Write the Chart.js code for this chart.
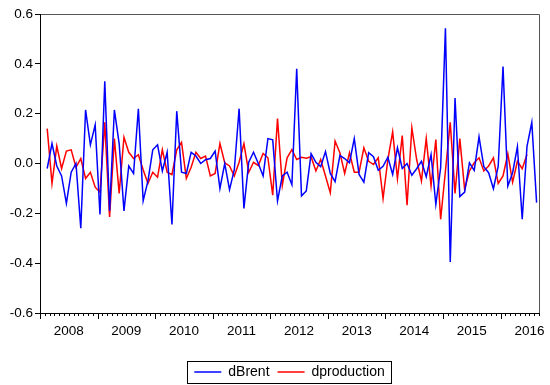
<!DOCTYPE html>
<html>
<head>
<meta charset="utf-8">
<script src="https://cdn.jsdelivr.net/npm/chart.js@4.4.0/dist/chart.umd.min.js"></script>
<style>
  html, body { margin: 0; padding: 0; background: #fff; }
  #wrap { width: 550px; height: 385px; }
</style>
</head>
<body>
<div id="wrap"><canvas id="myChart"></canvas></div>
<script>
// monthly series, 2008M02 .. 2016M08 (x = month index from 2008M02)
var years = ["2008", "2009", "2010", "2011", "2012", "2013", "2014", "2015", "2016"];

var dBrent = [
  -0.02, 0.08, -0.01, -0.05, -0.16, -0.035, 0.0, -0.26, 0.215, 0.075, 0.155, -0.205,
  0.33, -0.19, 0.215, 0.08, -0.19, -0.01, -0.04, 0.22, -0.15, -0.07, 0.055, 0.075,
  -0.03, 0.045, -0.245, 0.21, -0.035, -0.04, 0.045, 0.03, 0.0, 0.015, 0.02, 0.05,
  -0.1, 0.0, -0.105, -0.025, 0.22, -0.18, 0.005, 0.045, 0.0, -0.05, 0.1, 0.095,
  -0.15, -0.05, -0.035, -0.085, 0.38, -0.13, -0.11, 0.04, 0.005, -0.013, 0.048, -0.04,
  -0.073, 0.032, 0.02, 0.003, 0.1, -0.044, -0.075, 0.043, 0.027, -0.027, -0.011, 0.025,
  -0.044, 0.063, -0.02, 0.0, -0.047, -0.021, 0.009, -0.053, 0.036, -0.164, -0.017, 0.543,
  -0.395, 0.263, -0.133, -0.115, 0.003, -0.028, 0.107, -0.013, -0.037, -0.101, -0.011, 0.389,
  -0.091, -0.037, 0.067, -0.224, 0.069, 0.165, -0.157
];

var dproduction = [
  0.14, -0.08, 0.07, -0.02, 0.05, 0.055, -0.015, 0.02, -0.06, -0.035, -0.095, -0.115,
  0.165, -0.215, 0.1, -0.12, 0.105, 0.045, 0.02, 0.035, -0.025, -0.08, -0.035, -0.055,
  0.055, -0.035, -0.045, 0.055, 0.085, -0.06, -0.015, 0.045, 0.02, 0.03, -0.05, -0.04,
  0.08, 0.003, -0.01, -0.05, 0.005, 0.08, -0.035, 0.005, -0.008, 0.04, 0.023, -0.127,
  0.18, -0.088, 0.023, 0.056, 0.016, 0.025, 0.021, 0.027, -0.03, 0.016, -0.05, -0.117,
  0.09, 0.043, -0.04, 0.043, -0.035, -0.035, 0.063, 0.009, -0.004, 0.023, -0.14, 0.016,
  0.127, -0.061, 0.112, -0.167, 0.143, 0.016, -0.07, 0.1, -0.09, 0.096, -0.224, -0.03,
  0.165, -0.12, 0.1, -0.104, -0.03, 0.003, 0.023, -0.03, -0.01, 0.023, -0.08, -0.05,
  0.039, -0.075, 0.009, -0.021, 0.036
];

function toPoints(arr) {
  return arr.map(function (v, i) { return { x: i, y: v }; });
}

var FONT = "'Liberation Sans', Arial, sans-serif";

// frame, month ticks on the x axis, box round the legend
var framePlugin = {
  id: "frame",
  afterDraw: function (chart) {
    var ctx = chart.ctx, a = chart.chartArea, xs = chart.scales.x;
    ctx.save();
    ctx.lineWidth = 1;

    // top and right edges
    ctx.strokeStyle = "#555";
    ctx.beginPath();
    ctx.moveTo(a.left, a.top + 0.5);
    ctx.lineTo(a.right + 0.5, a.top + 0.5);
    ctx.lineTo(a.right + 0.5, a.bottom);
    ctx.stroke();

    // left and bottom axes
    ctx.strokeStyle = "#000";
    ctx.beginPath();
    ctx.moveTo(a.left + 0.5, a.top);
    ctx.lineTo(a.left + 0.5, a.bottom + 0.5);
    ctx.lineTo(a.right + 1, a.bottom + 0.5);
    ctx.stroke();

    // month ticks (long at year boundaries)
    ctx.beginPath();
    for (var n = 0; n <= 104; n++) {
      var px = Math.round(xs.getPixelForValue(n - 1.5)) + 0.5;
      var len = n % 12 === 0 ? 6 : 3;
      ctx.moveTo(px, a.bottom);
      ctx.lineTo(px, a.bottom + len);
    }
    ctx.stroke();

    // legend border
    var hb = chart.legend.legendHitBoxes;
    if (hb && hb.length) {
      var l = hb[0].left, r = hb[0].left + hb[0].width, t = hb[0].top, b = hb[0].top + hb[0].height;
      hb.forEach(function (h) {
        l = Math.min(l, h.left);
        r = Math.max(r, h.left + h.width);
        t = Math.min(t, h.top);
        b = Math.max(b, h.top + h.height);
      });
      ctx.strokeStyle = "#000";
      ctx.strokeRect(Math.round(l - 7) + 0.5, Math.round(t - 4) + 0.5, Math.round(r - l + 14), Math.round(b - t + 8));
    }
    ctx.restore();
  },
};

new Chart(document.getElementById("myChart"), {
  type: "line",
  data: {
    datasets: [
      {
        label: "dBrent",
        data: toPoints(dBrent),
        borderColor: "#0000ff",
        backgroundColor: "#0000ff",
        borderWidth: 1.5,
        pointRadius: 0,
        tension: 0,
      },
      {
        label: "dproduction",
        data: toPoints(dproduction),
        borderColor: "#ff0000",
        backgroundColor: "#ff0000",
        borderWidth: 1.5,
        pointRadius: 0,
        tension: 0,
      },
    ],
  },
  plugins: [framePlugin],
  options: {
    responsive: true,
    maintainAspectRatio: false,
    animation: false,
    layout: {
      padding: { top: 14, right: 11, left: 0, bottom: 0 },
    },
    plugins: {
      tooltip: { enabled: false },
      legend: {
        display: true,
        position: "bottom",
        fullSize: false,
        maxHeight: 28,
        labels: {
          color: "#000",
          font: { family: FONT, size: 14 },
          usePointStyle: true,
          pointStyle: "line",
          pointStyleWidth: 27,
          padding: 8,
        },
      },
    },
    scales: {
      x: {
        type: "linear",
        min: -1.5,
        max: 102.5,
        afterBuildTicks: function (scale) {
          scale.ticks = years.map(function (y, j) {
            return { value: 12 * j + 4.5 };
          });
        },
        afterFit: function (scale) {
          scale.height = 44;
        },
        grid: { display: false },
        border: { display: false },
        ticks: {
          autoSkip: false,
          maxRotation: 0,
          minRotation: 0,
          padding: 2,
          color: "#000",
          font: { family: FONT, size: 13.5 },
          callback: function (value, index) {
            return years[index];
          },
        },
      },
      y: {
        min: -0.6,
        max: 0.6,
        afterFit: function (scale) {
          scale.width = 40;
        },
        grid: {
          drawOnChartArea: false,
          drawTicks: true,
          tickLength: 5,
          color: "#000",
        },
        border: { display: false },
        ticks: {
          stepSize: 0.2,
          padding: 2,
          color: "#000",
          font: { family: FONT, size: 13.5 },
          callback: function (v) {
            if (Math.abs(v) < 1e-9) return "0.0";
            return v.toFixed(1);
          },
        },
      },
    },
  },
});
</script>
</body>
</html>
